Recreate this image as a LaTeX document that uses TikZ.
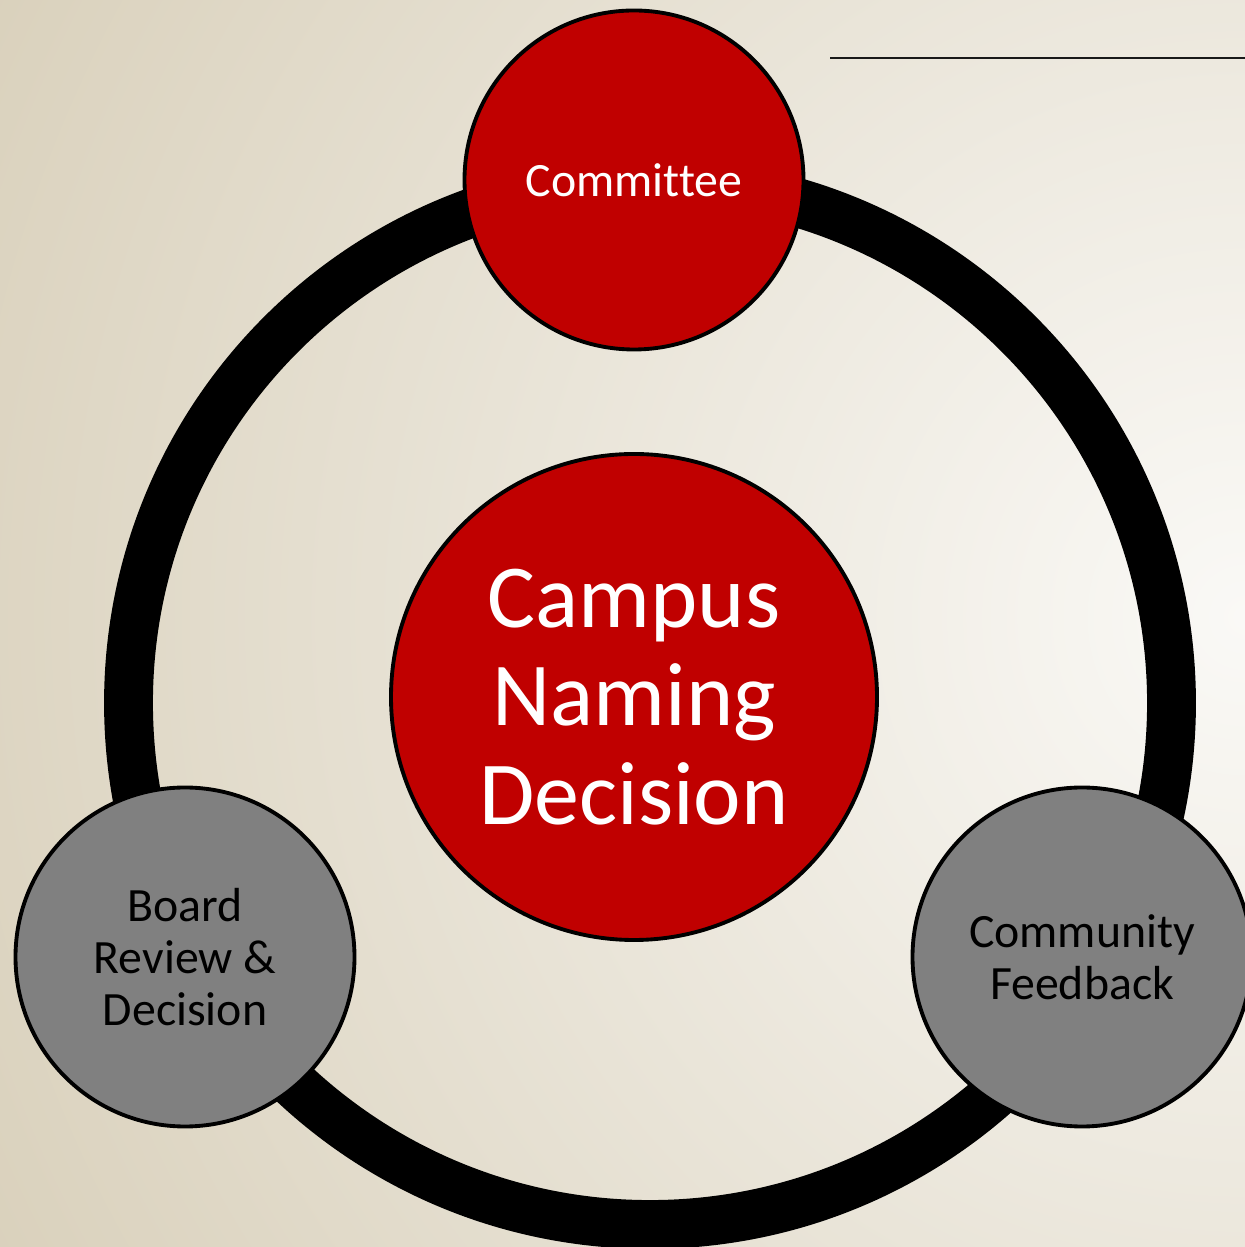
\documentclass[tikz,border=0pt]{standalone}
\usepackage{fontspec}
\setmainfont{Carlito}[Ligatures=NoCommon]
\definecolor{campusred}{HTML}{C00000}
\definecolor{stagegrey}{HTML}{808080}
\definecolor{bglight}{HTML}{FAF9F6}
\definecolor{bgdark}{HTML}{D4CAB2}

\begin{document}
\begin{tikzpicture}
  [stage/.style={circle, draw=black, line width=1.1pt, inner sep=0pt,
     minimum size=3.39cm, align=center, font=\fontsize{13.6}{14.8}\selectfont},
   redstage/.style={stage, fill=campusred, text=white},
   greystage/.style={stage, fill=stagegrey, text=black}]
  \useasboundingbox (0,0) rectangle (12.45,12.47);
  \begin{scope}
    \clip (0,0) rectangle (12.45,12.47);
    \shade[inner color=bglight, outer color=bgdark] (12.45,6.3) circle (16.5);
  \end{scope}

  \coordinate (hub) at (6.50,5.44);
  \draw[line width=13.9pt] (hub) circle (5.215);

  \node[redstage] (cmt) at (6.34,10.67) {Committee};
  \node[redstage, minimum size=4.86cm, font=\fontsize{25.6}{28}\selectfont]
    (dec) at (6.34,5.50) {Campus\\Naming\\Decision};
  \node[greystage] (brd) at (1.85,2.90) {Board\\Review \&\\Decision};
  \node[greystage] (fbk) at (10.82,2.90) {Community\\Feedback};

  \coordinate (ls) at (8.30,11.89);
  \coordinate (le) at (12.45,11.89);
  \draw[line width=0.6pt, black!90] (ls) -- (le);
\end{tikzpicture}
\end{document}
